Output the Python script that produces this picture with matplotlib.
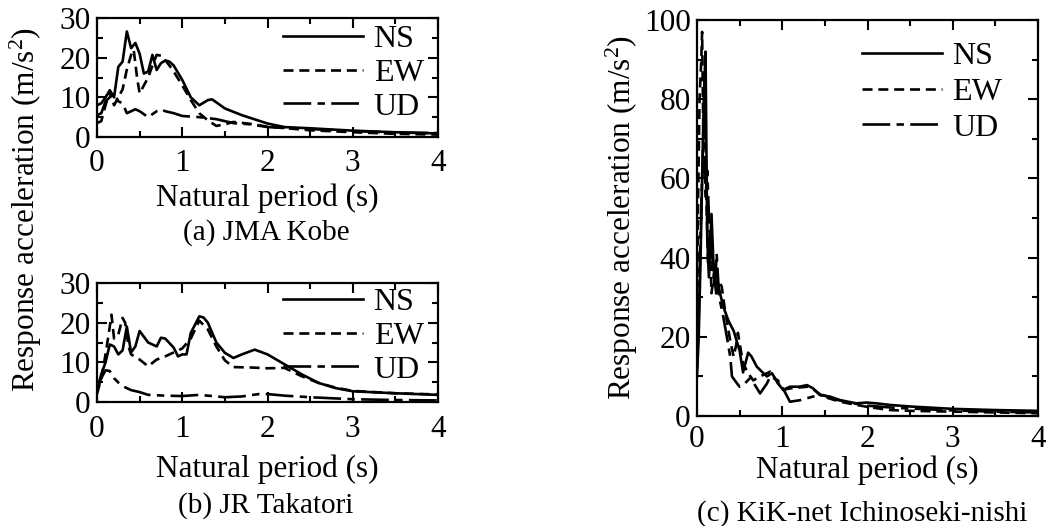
import matplotlib
matplotlib.use("Agg")
import matplotlib.pyplot as plt
from matplotlib.ticker import MultipleLocator

plt.rcParams['font.family'] = ['Liberation Serif', 'DejaVu Serif']
plt.rcParams['mathtext.fontset'] = 'custom'
plt.rcParams['mathtext.rm'] = 'Liberation Serif'
plt.rcParams['mathtext.default'] = 'regular'
plt.rcParams['font.size'] = 22.5

# ---------------- data ----------------
# (a) JMA Kobe
ns_a_t = [0, 0.05, 0.1, 0.15, 0.2, 0.25, 0.3, 0.35, 0.4, 0.45, 0.5, 0.55, 0.6, 0.65, 0.7, 0.75, 0.8, 0.85, 0.9,
          1.0, 1.1, 1.2, 1.3, 1.35, 1.5, 1.7, 2.0, 2.2, 2.5, 3.0, 3.5, 4.0]
ns_a = [8, 8.5, 10, 11.8, 10, 17.7, 19, 26.6, 22.4, 23.7, 21, 16, 16.5, 20.7, 16.9, 18.6, 19.3, 19, 18,
        14.4, 10, 8, 9.3, 9.5, 7.2, 5.5, 3.4, 2.5, 2.2, 1.6, 1.2, 0.9]
ew_a_t = [0, 0.05, 0.1, 0.15, 0.2, 0.25, 0.3, 0.35, 0.4, 0.43, 0.47, 0.5, 0.55, 0.6, 0.65, 0.7, 0.75, 0.8, 0.85,
          0.9, 1.0, 1.1, 1.2, 1.3, 1.4, 1.5, 1.6, 1.8, 2.0, 2.5, 3.0, 3.5, 4.0]
ew_a = [3.5, 4, 8, 11.5, 8, 10, 12, 17, 20.7, 22, 15, 11, 13, 15, 18, 20.7, 20.5, 19.4, 18,
        16.5, 13, 9.3, 6, 4.2, 2.8, 3.2, 3.8, 3.3, 2.6, 1.7, 1.2, 0.8, 0.6]
ud_a_t = [0, 0.05, 0.1, 0.15, 0.2, 0.25, 0.3, 0.35, 0.4, 0.45, 0.5, 0.6, 0.7, 0.75, 0.8, 0.9, 1.0, 1.2, 1.4,
          1.6, 1.8, 2.0, 2.5, 3.0, 3.5, 4.0]
ud_a = [5.5, 6, 9, 10, 11, 9, 8.5, 6, 6.5, 7, 6.5, 5, 6.5, 7, 6.5, 6, 5.3, 5, 4.5,
        3.5, 3.2, 2.5, 2, 1.5, 1.1, 1]

# (b) JR Takatori
ns_b_t = [0, 0.05, 0.1, 0.15, 0.2, 0.25, 0.3, 0.35, 0.4, 0.45, 0.5, 0.6, 0.7, 0.75, 0.8, 0.9, 0.95, 1.0, 1.05,
          1.1, 1.2, 1.25, 1.3, 1.4, 1.5, 1.6, 1.7, 1.85, 2.0, 2.2, 2.4, 2.6, 2.8, 3.0, 3.5, 4.0]
ns_b = [3, 7, 10, 14.5, 14, 12, 13, 19, 12.5, 14, 17.9, 15, 14, 16.2, 16, 13.7, 11.5, 12, 12,
        17.4, 21.6, 21.3, 20, 15, 12.4, 11.1, 12, 13.2, 12, 9.5, 7, 4.8, 3.5, 2.7, 2.2, 1.8]
ew_b_t = [0, 0.05, 0.1, 0.15, 0.17, 0.2, 0.25, 0.3, 0.33, 0.37, 0.4, 0.5, 0.6, 0.7, 0.8, 0.9, 1.0, 1.1, 1.2,
          1.3, 1.4, 1.5, 1.6, 1.8, 2.0, 2.2, 2.4, 2.6, 2.8, 3.0, 3.5, 4.0]
ew_b = [2, 6, 12, 19, 22, 16, 17, 21.2, 20, 14, 12, 10.7, 9, 10.7, 11.5, 12.5, 13.5, 16, 20.5,
        18.3, 14, 10.5, 8.8, 8.7, 8.5, 8.6, 6.5, 4.8, 3.6, 2.8, 2.2, 1.9]
ud_b_t = [0, 0.05, 0.1, 0.15, 0.2, 0.25, 0.3, 0.4, 0.5, 0.6, 0.8, 1.0, 1.2, 1.5, 1.7, 1.9, 2.0, 2.2, 2.5,
          3.0, 3.5, 4.0]
ud_b = [3, 6, 8, 7.8, 6, 4.9, 4, 3, 2.5, 1.8, 1.6, 1.5, 1.8, 1.2, 1.4, 2, 2, 1.6, 1.2,
        0.7, 0.5, 0.4]

# (c) KiK-net Ichinoseki-nishi
ns_c_t = [0, 0.02, 0.04, 0.06, 0.08, 0.1, 0.12, 0.14, 0.17, 0.19, 0.21, 0.24, 0.27, 0.31, 0.37, 0.43, 0.5,
          0.54, 0.6, 0.64, 0.7, 0.76, 0.82, 0.88, 0.95, 1.01, 1.09, 1.2, 1.29, 1.36, 1.44, 1.56, 1.68,
          1.87, 1.99, 2.1, 2.26, 2.5, 3.0, 3.5, 4.0]
ns_c = [10, 20, 38, 60, 80, 92, 45, 35, 51, 40, 33, 34, 31, 27.5, 24, 21.5, 16.5,
        11, 16, 15, 12.5, 11.2, 10, 10.8, 8.2, 6.6, 7.4, 7.4, 7.8, 7, 5.3, 4.9, 4,
        3.2, 3.4, 3.2, 2.8, 2.4, 1.8, 1.5, 1.3]
ew_c_t = [0, 0.01, 0.03, 0.05, 0.06, 0.075, 0.09, 0.11, 0.13, 0.15, 0.17, 0.2, 0.23, 0.26, 0.29, 0.32, 0.35,
          0.39, 0.43, 0.46, 0.48, 0.5, 0.54, 0.6, 0.66, 0.74, 0.86, 0.93, 1.01, 1.1, 1.2, 1.3, 1.38, 1.48,
          1.68, 1.87, 2.0, 2.26, 2.5, 3.0, 3.5, 4.0]
ew_c = [15, 50, 80, 90, 97, 70, 85, 55, 38, 45, 31, 36, 30, 34, 32.7, 28, 24,
        19, 15, 18, 21, 18.4, 13.3, 10.8, 9, 10, 11.2, 9, 6.6, 7, 7.2, 7.4, 6.5, 4.9,
        3.6, 2.8, 2.3, 1.5, 1.3, 1.1, 0.9, 0.7]
ud_c_t = [0, 0.02, 0.04, 0.06, 0.08, 0.1, 0.12, 0.15, 0.18, 0.21, 0.23, 0.26, 0.3, 0.35, 0.39, 0.41, 0.47,
          0.5, 0.56, 0.62, 0.68, 0.74, 0.82, 0.86, 0.95, 1.03, 1.09, 1.21, 1.36, 1.48, 1.6, 1.8, 2.0, 2.3,
          2.6, 3.0, 3.5, 4.0]
ud_c = [12, 25, 45, 60, 75, 55, 62, 45, 40, 32, 41, 30, 26, 20, 15, 10, 8.2,
        7.4, 8.2, 9.5, 7.8, 5.7, 8.2, 10, 9, 6.1, 3.6, 4, 4.9, 5.3, 4.3, 3.3, 2.6, 2.1,
        1.8, 1.4, 1.1, 0.9]

labels = ["NS", "EW", "UD"]
captions = ["(a) JMA Kobe", "(b) JR Takatori", "(c) KiK-net Ichinoseki-nishi"]
xticks = [0, 1, 2, 3, 4]
xlabel = "Natural period (s)"
ylabel = "Response acceleration (m/s$^2$)"

# ---------------- figure ----------------
W, H = 1046, 526
fig = plt.figure(figsize=(W / 100, H / 100), dpi=100)

boxes = [(97, 18, 438, 137), (97, 283, 438, 402), (697, 20, 1038, 416)]


def px_axes(l, t, r, b):
    return fig.add_axes([l / W, 1 - b / H, (r - l) / W, (b - t) / H])


axes = [px_axes(*b) for b in boxes]

LW = 1.9
styles = [dict(linestyle='-'),
          dict(linestyle=(0, (3.8, 2.2))),
          dict(linestyle=(0, (10.5, 2.4, 2.8, 2.4)))]

series_all = [
    [(ns_a_t, ns_a), (ew_a_t, ew_a), (ud_a_t, ud_a)],
    [(ns_b_t, ns_b), (ew_b_t, ew_b), (ud_b_t, ud_b)],
    [(ns_c_t, ns_c), (ew_c_t, ew_c), (ud_c_t, ud_c)],
]
ylims = [(30, 10, 5), (30, 10, 5), (100, 20, 10)]
legend_pos = [(0.545, 0.945), (0.545, 0.962), (0.483, 0.945)]
legend_space = [0.14, 0.14, 0.2]
xpads = [8.6, 9.4, 6.6]
xlabel_base = [206, 477, 478]

for i, ax in enumerate(axes):
    for (t, v), lab, st in zip(series_all[i], labels, styles):
        ax.plot(t, v, color='black', lw=LW, label=lab, **st)
    ymax, ymaj, ymin = ylims[i]
    ax.set_xlim(0, 4)
    ax.set_ylim(0, ymax)
    ax.set_xticks(xticks)
    ax.xaxis.set_minor_locator(MultipleLocator(0.5))
    ax.yaxis.set_major_locator(MultipleLocator(ymaj))
    ax.yaxis.set_minor_locator(MultipleLocator(ymin))
    ax.tick_params(which='both', direction='in', top=True, right=True, width=1.5, colors='black')
    ax.tick_params(which='major', length=7)
    ax.tick_params(which='minor', length=4)
    ax.tick_params(axis='x', which='major', pad=xpads[i])
    ax.tick_params(axis='y', which='major', pad=4.5)
    for s in ax.spines.values():
        s.set_linewidth(1.6)
    l, t, r, b = boxes[i]
    ax.set_xlabel(xlabel, va='baseline')
    ax.xaxis.set_label_coords(0.5, -(xlabel_base[i] - b) / (b - t))
    ax.legend(loc='upper left', bbox_to_anchor=legend_pos[i], frameon=False, borderpad=0, borderaxespad=0,
              handlelength=2.5, handletextpad=0.34, labelspacing=legend_space[i], fontsize=23)

fig.text(26 / W, 1 - 210 / H, ylabel, rotation=90, ha='center', va='center')
axes[2].set_ylabel(ylabel, labelpad=3)

fig.text(266 / W, 1 - 240 / H, captions[0], ha='center', va='baseline', fontsize=21)
fig.text(266 / W, 1 - 513 / H, captions[1], ha='center', va='baseline', fontsize=21)
fig.text(862 / W, 1 - 521 / H, captions[2], ha='center', va='baseline', fontsize=21)

fig.savefig("out.png", dpi=100)
